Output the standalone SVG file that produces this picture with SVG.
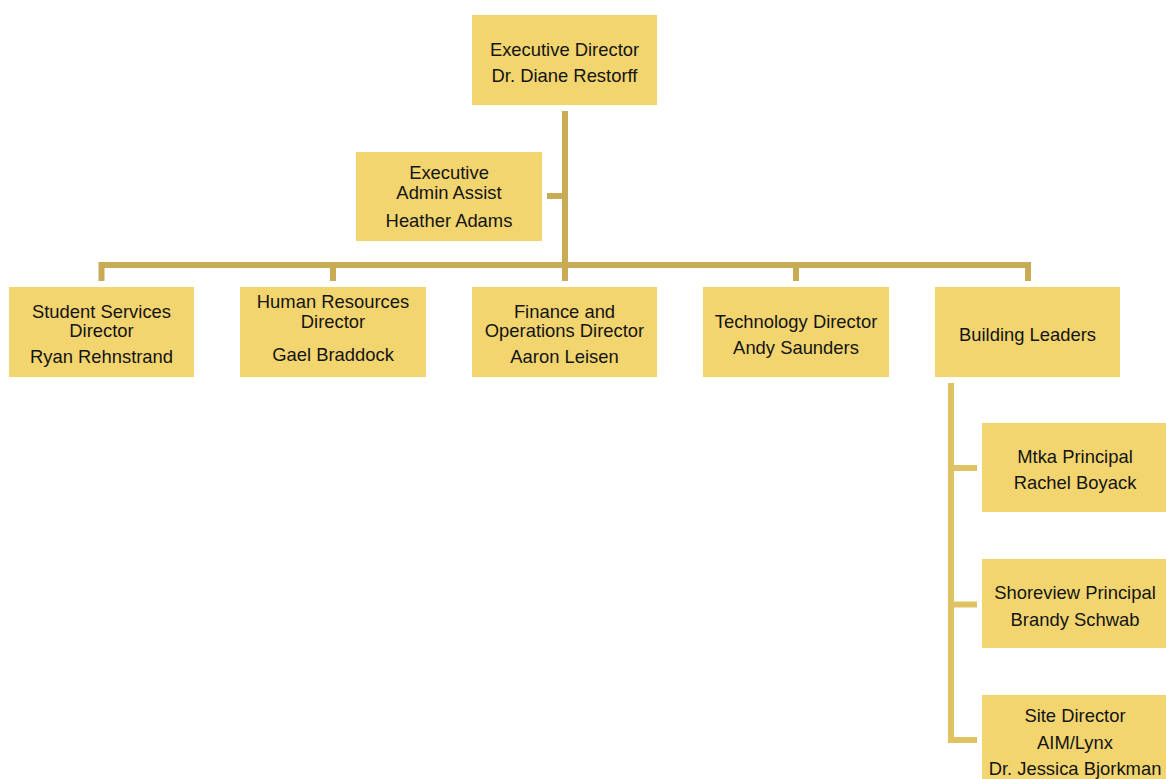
<svg xmlns="http://www.w3.org/2000/svg" width="1166" height="779" viewBox="0 0 1166 779">
<style>
.box{fill:#F2D56F}
.t{font-family:"Liberation Sans",Arial,sans-serif;font-size:18.4px;fill:#141414;text-anchor:middle}
.ln{stroke:#C8AB55;stroke-width:6;fill:none}
.ln2{stroke:#DFC262;stroke-width:6;fill:none}
</style>
<rect width="1166" height="779" fill="#ffffff"/>
<g id="connectors">
<path class="ln" d="M565 111 V281"/>
<path class="ln" d="M547 196 H565"/>
<path class="ln" d="M101.5 281 V265 H1028 V281"/>
<path class="ln" d="M333 265 V281"/>
<path class="ln" d="M796 265 V281"/>
<path class="ln2" d="M951 383 V740 H977"/>
<path class="ln2" d="M951 468 H977"/>
<path class="ln2" d="M951 604.5 H977"/>
</g>
<g id="exec-director">
<rect class="box" x="472" y="15" width="185" height="90"/>
<text class="t" x="564.5" y="56">Executive Director</text>
<text class="t" x="564.5" y="82">Dr. Diane Restorff</text>
</g>
<g id="exec-admin">
<rect class="box" x="356" y="152" width="186" height="89"/>
<text class="t" x="449" y="179">Executive</text>
<text class="t" x="449" y="198.5">Admin Assist</text>
<text class="t" x="449" y="227">Heather Adams</text>
</g>
<g id="student-services">
<rect class="box" x="9" y="287" width="185" height="90"/>
<text class="t" x="101.5" y="318">Student Services</text>
<text class="t" x="101.5" y="337">Director</text>
<text class="t" x="101.5" y="363">Ryan Rehnstrand</text>
</g>
<g id="human-resources">
<rect class="box" x="240" y="287" width="186" height="90"/>
<text class="t" x="333" y="308">Human Resources</text>
<text class="t" x="333" y="328">Director</text>
<text class="t" x="333" y="361">Gael Braddock</text>
</g>
<g id="finance">
<rect class="box" x="472" y="287" width="185" height="90"/>
<text class="t" x="564.5" y="318">Finance and</text>
<text class="t" x="564.5" y="337">Operations Director</text>
<text class="t" x="564.5" y="363">Aaron Leisen</text>
</g>
<g id="technology">
<rect class="box" x="703" y="287" width="186" height="90"/>
<text class="t" x="796" y="328">Technology Director</text>
<text class="t" x="796" y="354">Andy Saunders</text>
</g>
<g id="building-leaders">
<rect class="box" x="935" y="287" width="185" height="90"/>
<text class="t" x="1027.5" y="341">Building Leaders</text>
</g>
<g id="mtka">
<rect class="box" x="982" y="423" width="186" height="89"/>
<text class="t" x="1075" y="463">Mtka Principal</text>
<text class="t" x="1075" y="489">Rachel Boyack</text>
</g>
<g id="shoreview">
<rect class="box" x="982" y="559" width="186" height="89"/>
<text class="t" x="1075" y="599">Shoreview Principal</text>
<text class="t" x="1075" y="626">Brandy Schwab</text>
</g>
<g id="site-director">
<rect class="box" x="982" y="695" width="186" height="90"/>
<text class="t" x="1075" y="722">Site Director</text>
<text class="t" x="1075" y="749">AIM/Lynx</text>
<text class="t" x="1075" y="775">Dr. Jessica Bjorkman</text>
</g>
</svg>
